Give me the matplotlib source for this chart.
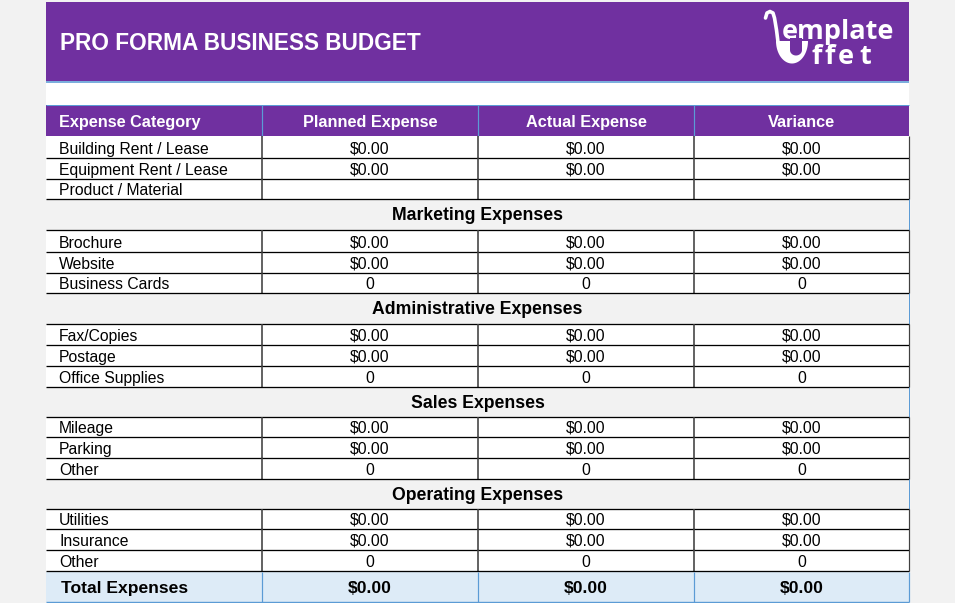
import matplotlib
matplotlib.use("Agg")
import matplotlib.pyplot as plt
from matplotlib.patches import Rectangle, Polygon
import numpy as np

# ---------------- data ----------------
title = "PRO FORMA BUSINESS BUDGET"
columns = ["Expense Category", "Planned Expense", "Actual Expense", "Variance"]

main_items = ["Building Rent / Lease", "Equipment Rent / Lease", "Product / Material"]
main_planned = ["$0.00", "$0.00", ""]
main_actual = ["$0.00", "$0.00", ""]
main_variance = ["$0.00", "$0.00", ""]

sections = ["Marketing Expenses", "Administrative Expenses", "Sales Expenses", "Operating Expenses"]
section_items = [
    ["Brochure", "Website", "Business Cards"],
    ["Fax/Copies", "Postage", "Office Supplies"],
    ["Mileage", "Parking", "Other"],
    ["Utilities", "Insurance", "Other"],
]
section_planned = [["$0.00", "$0.00", "0"]] * 4
section_actual = [["$0.00", "$0.00", "0"]] * 4
section_variance = [["$0.00", "$0.00", "0"]] * 4

total_label = "Total Expenses"
total_values = ["$0.00", "$0.00", "$0.00"]

logo_top = "emplate"
logo_bottom = "ffet"

# ---------------- style ----------------
PURPLE = "#7030a0"
BG = "#f2f2f2"
BLUE = "#5b9bd5"
TOTAL_BG = "#ddebf7"
FONT = "Liberation Sans"

fig = plt.figure(figsize=(9.55, 6.03), dpi=100)
fig.patch.set_facecolor(BG)
ax = fig.add_axes([0, 0, 1, 1])
ax.set_xlim(0, 955)
ax.set_ylim(603, 0)
ax.axis("off")

L, R = 46, 909
col_x = [46, 262, 478, 694, 909]
col_c = [(col_x[i] + col_x[i + 1]) / 2 for i in range(4)]
px = 0.72

def rect(x0, y0, x1, y1, color, z=1):
    ax.add_patch(Rectangle((x0, y0), x1 - x0, y1 - y0, facecolor=color, edgecolor="none", zorder=z))

def hline(y, x0=L, x1=R, color="black", w=1.3, z=3):
    ax.plot([x0, x1], [y, y], color=color, lw=w * px, solid_capstyle="butt", zorder=z)

def vline(x, y0, y1, color="#404040", w=1.6, z=3):
    ax.plot([x, x], [y0, y1], color=color, lw=w * px, solid_capstyle="butt", zorder=z)

# white sheet area
rect(L, 2, R, 602, "white", 0)

# title band
rect(L, 2, R, 80.5, PURPLE)
hline(81.5, color=BLUE, w=1.6)
ax.text(60, 49.5, title, color="white", fontsize=16.3, fontweight="bold",
        family=FONT, va="baseline", ha="left", zorder=5)

# logo
ax.text(782, 39, logo_top, color="white", fontsize=19.5, fontweight="bold",
        family="Open Sans", va="baseline", ha="left", zorder=6)
for ch, x in zip(logo_bottom, [811, 824, 837.5, 859.5]):
    ax.text(x, 63.5, ch, color="white", fontsize=19.5, fontweight="bold",
            family="Open Sans", va="baseline", ha="left", zorder=6)
# ladle handle
hx = [765.5, 767, 770, 773, 774.5, 776.5, 778]
hy = [18, 13, 11.5, 13, 18, 30, 42]
ax.plot(hx, hy, color="white", lw=3.6 * px, solid_capstyle="round",
        solid_joinstyle="round", zorder=6)
# ladle bowl forming the 'u'
t = np.linspace(0, np.pi, 50)
bowl = np.column_stack([792 + 16 * np.cos(t), 41 + 22.5 * np.sin(t)])
ax.add_patch(Polygon(bowl, closed=True, facecolor="white", edgecolor="none", zorder=6))
t2 = np.linspace(0, np.pi, 30)
counter = np.column_stack([np.r_[802, 796 + 6 * np.cos(t2), 790],
                           np.r_[38, 50 + 5.5 * np.sin(t2), 38]])
ax.add_patch(Polygon(counter, closed=True, facecolor=PURPLE, edgecolor="none", zorder=6.5))

# column header row
hy0, hy1 = 105, 136
rect(L, hy0, R, hy1, PURPLE)
hline(104.5, color=BLUE, w=1.0)
for x in col_x[1:4]:
    vline(x, hy0, hy1, color=BLUE, w=1.2)
ax.text(59, hy1 - 9, columns[0], color="white", fontsize=11.7, fontweight="bold",
        family=FONT, va="baseline", ha="left", zorder=5)
for i in range(1, 4):
    ax.text(col_c[i], hy1 - 9, columns[i], color="white", fontsize=11.7, fontweight="bold",
            family=FONT, va="baseline", ha="center", zorder=5)

# row boundaries (pixel layout)
item_bounds = [
    [136, 158, 179, 199],
    [230, 252, 273, 293],
    [324, 345, 366, 387],
    [417, 437, 458, 479],
    [509, 529, 550, 571],
]
section_bounds = [(199, 230), (293, 324), (387, 417), (479, 509)]
total_bounds = (571, 602)

def draw_items(bounds, names, p, a, v):
    for j, name in enumerate(names):
        y0, y1 = bounds[j], bounds[j + 1]
        for x in col_x[1:4]:
            vline(x, y0, y1)
        vline(R, y0, y1, color="#404040", w=1.2)
        hline(y1)
        base = y1 - 4.3
        ax.text(59, base, name, fontsize=11.3, family=FONT, va="baseline", ha="left",
                color="black", zorder=5)
        for k, val in enumerate([p[j], a[j], v[j]]):
            ax.text(col_c[k + 1], base, val, fontsize=11.3, family=FONT, va="baseline",
                    ha="center", color="black", zorder=5)

draw_items(item_bounds[0], main_items, main_planned, main_actual, main_variance)

for s, name in enumerate(sections):
    y0, y1 = section_bounds[s]
    rect(L, y0, R, y1, BG)
    vline(R, y0, y1, color=BLUE, w=1.0)
    hline(y1)
    ax.text((L + R) / 2, (y0 + y1) / 2 + 5.5, name, fontsize=12.7, fontweight="bold",
            family=FONT, va="baseline", ha="center", color="black", zorder=5)
    draw_items(item_bounds[s + 1], section_items[s], section_planned[s],
               section_actual[s], section_variance[s])

# total row
ty0, ty1 = total_bounds
rect(L, ty0 + 0.7, R, ty1, TOTAL_BG)
for x in col_x[1:]:
    vline(x, ty0 + 0.7, ty1, color=BLUE, w=1.2)
hline(ty1 - 0.5, color=BLUE, w=1.4)
ax.text(61, ty1 - 9, total_label, fontsize=12.6, fontweight="bold", family=FONT,
        va="baseline", ha="left", color="black", zorder=5)
for k, val in enumerate(total_values):
    ax.text(col_c[k + 1], ty1 - 9, val, fontsize=12.6, fontweight="bold", family=FONT,
            va="baseline", ha="center", color="black", zorder=5)

fig.savefig("out.png", dpi=100, facecolor=fig.get_facecolor())
